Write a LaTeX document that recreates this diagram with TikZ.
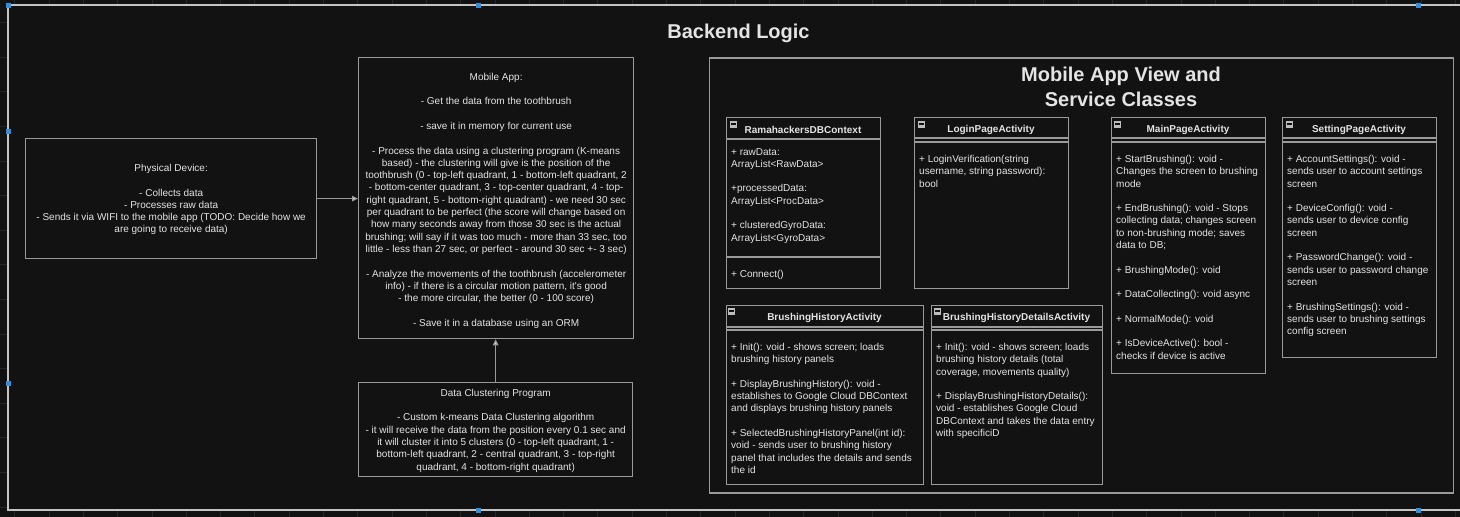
\documentclass[tikz,border=0pt]{standalone}
\usepackage{fontspec}
\newfontfamily\appfont{Liberation Sans}
\usetikzlibrary{arrows.meta}
\definecolor{bg}{HTML}{121212}
\definecolor{fg}{HTML}{E4E4E4}
\definecolor{edge}{HTML}{9A9A9A}
\definecolor{frame}{HTML}{C4C4C4}
\definecolor{gridc}{HTML}{262626}
\definecolor{handle}{HTML}{3A8CD0}
\definecolor{icofill}{HTML}{BDBDBD}
\begin{document}
\begin{tikzpicture}[x=1pt,y=-1pt,
  box/.style={draw=edge, line width=1.3pt, fill=bg, inner sep=0pt, anchor=north west},
  body/.style={text=fg, inner sep=0pt, font=\appfont\fontsize{10}{12.3}\selectfont},
  lbody/.style={body, align=left, anchor=north west},
  cbody/.style={body, align=center},
  hdr/.style={text=fg, inner sep=0pt, font=\appfont\bfseries\fontsize{10}{12}\selectfont},
  sepline/.style={draw=edge, line width=1.1pt},
  conn/.style={draw=edge, line width=1.2pt, -{Triangle[length=6pt,width=5.5pt,fill=fg]}},
  bigtitle/.style={text=fg, inner sep=0pt, font=\appfont\bfseries\fontsize{20}{25}\selectfont, align=center}
]
\useasboundingbox (0,0) rectangle (1460,517);
\fill[bg] (0,0) rectangle (1460,517);
% faint grid
\foreach \gx in {0,...,42} {\draw[gridc, line width=0.6pt] ({14.6+34.3*\gx},0) -- ({14.6+34.3*\gx},517);}
\foreach \gy in {0,...,15} {\draw[gridc, line width=0.6pt] (0,{22.5+34.6*\gy}) -- (1460,{22.5+34.6*\gy});}
% outer frame
\begin{scope}
\clip (0,0) rectangle (1460,517);
\draw[frame, line width=1.6pt, fill=bg] (8,5) rectangle (1480,510);
\end{scope}

\node[bigtitle, anchor=base] (title) at (738.5,38) {Backend Logic};

% Physical device
\node[box, minimum width=291, minimum height=120] (phys) at (25,138) {};
\node[cbody] (physt) at ([yshift=-1pt]phys.center) {Physical Device:\\[12.3pt]
- Collects data\\
- Processes raw data\\
- Sends it via WIFI to the mobile app (TODO: Decide how we\\
are going to receive data)};

% Mobile app
\node[box, minimum width=275, minimum height=281] (app) at (358,57) {};
\node[cbody] (appt) at ([yshift=-2.5pt]app.center) {Mobile App:\\[12.3pt]
- Get the data from the toothbrush\\[12.3pt]
- save it in memory for current use\\[12.3pt]
- Process the data using a clustering program (K-means\\
based) - the clustering will give is the position of the\\
toothbrush (0 - top-left quadrant, 1 - bottom-left quadrant, 2\\
- bottom-center quadrant, 3 - top-center quadrant, 4 - top-\\
right quadrant, 5 - bottom-right quadrant) - we need 30 sec\\
per quadrant to be perfect (the score will change based on\\
how many seconds away from those 30 sec is the actual\\
brushing; will say if it was too much - more than 33 sec, too\\
little - less than 27 sec, or perfect - around 30 sec +- 3 sec)\\[12.3pt]
- Analyze the movements of the toothbrush (accelerometer\\
info) - if there is a circular motion pattern, it's good\\
- the more circular, the better (0 - 100 score)\\[12.3pt]
- Save it in a database using an ORM};

% Data clustering
\node[box, minimum width=274, minimum height=94] (clus) at (358,382) {};
\node[cbody] (clust) at ([yshift=-1pt]clus.center) {Data Clustering Program\\[12.3pt]
- Custom k-means Data Clustering algorithm\\
- it will receive the data from the position every 0.1 sec and\\
it will cluster it into 5 clusters (0 - top-left quadrant, 1 -\\
bottom-left quadrant, 2 - central quadrant, 3 - top-right\\
quadrant, 4 - bottom-right quadrant)};

\draw[conn] (phys.east) -- (phys.east -| app.west);
\draw[conn] (clus.north) -- (clus.north |- app.south);

% Mobile App View container
\node[box, line width=1.5pt, minimum width=744, minimum height=435] (view) at (708.5,57) {};
\node[bigtitle, anchor=base] (viewt1) at (1121,81) {Mobile App View and};
\node[bigtitle, anchor=base] (viewt2) at (1121,106.5) {Service Classes};

% RamahackersDBContext
\node[box, minimum width=154, minimum height=171] (ram) at (726,117) {};
\draw[sepline] (726,139) -- (880,139);
\draw[sepline] (726,257) -- (880,257);
\node[hdr] (ramh) at (803,129.5) {RamahackersDBContext};
\node[lbody] (rama) at (731,148) {+ rawData:\\ArrayList<RawData>\\[12.3pt]+processedData:\\ArrayList<ProcData>\\[12.3pt]+ clusteredGyroData:\\ArrayList<GyroData>};
\node[lbody] (ramm) at (731,270) {+ Connect()};

% LoginPageActivity
\node[box, minimum width=154, minimum height=171] (login) at (914,117) {};
\draw[sepline] (914,138) -- (1068,138);
\draw[sepline] (914,142) -- (1068,142);
\node[hdr] (loginh) at (991,129.5) {LoginPageActivity};
\node[lbody] (loginm) at (919,155) {+ LoginVerification(string\\username, string password):\\bool};

% MainPageActivity
\node[box, minimum width=154, minimum height=256] (mainp) at (1111,117) {};
\draw[sepline] (1111,138) -- (1265,138);
\draw[sepline] (1111,142) -- (1265,142);
\node[hdr] (mainh) at (1188,129.5) {MainPageActivity};
\node[lbody] (mainm) at (1116,155) {+ StartBrushing(): void -\\Changes the screen to brushing\\mode\\[12.3pt]
+ EndBrushing(): void - Stops\\collecting data; changes screen\\to non-brushing mode; saves\\data to DB;\\[12.3pt]
+ BrushingMode(): void\\[12.3pt]
+ DataCollecting(): void async\\[12.3pt]
+ NormalMode(): void\\[12.3pt]
+ IsDeviceActive(): bool -\\checks if device is active};

% SettingPageActivity
\node[box, minimum width=154, minimum height=240] (sett) at (1282,117) {};
\draw[sepline] (1282,138) -- (1436,138);
\draw[sepline] (1282,142) -- (1436,142);
\node[hdr] (setth) at (1359,129.5) {SettingPageActivity};
\node[lbody] (settm) at (1287,155) {+ AccountSettings(): void -\\sends user to account settings\\screen\\[12.3pt]
+ DeviceConfig(): void -\\sends user to device config\\screen\\[12.3pt]
+ PasswordChange(): void -\\sends user to password change\\screen\\[12.3pt]
+ BrushingSettings(): void -\\sends user to brushing settings\\config screen};

% BrushingHistoryActivity
\node[box, minimum width=197, minimum height=179] (bha) at (726,305) {};
\draw[sepline] (726,327) -- (923,327);
\draw[sepline] (726,330) -- (923,330);
\node[hdr] (bhah) at (824.5,318) {BrushingHistoryActivity};
\node[lbody] (bham) at (731,343) {+ Init(): void - shows screen; loads\\brushing history panels\\[12.3pt]
+ DisplayBrushingHistory(): void -\\establishes to Google Cloud DBContext\\and displays brushing history panels\\[12.3pt]
+ SelectedBrushingHistoryPanel(int id):\\void - sends user to brushing history\\panel that includes the details and sends\\the id};

% BrushingHistoryDetailsActivity
\node[box, minimum width=171, minimum height=179] (bhda) at (931,305) {};
\draw[sepline] (931,327) -- (1102,327);
\draw[sepline] (931,330) -- (1102,330);
\node[hdr] (bhdah) at (1016.5,318) {BrushingHistoryDetailsActivity};
\node[lbody] (bhdam) at (936,343) {+ Init(): void - shows screen; loads\\brushing history details (total\\coverage, movements quality)\\[12.3pt]
+ DisplayBrushingHistoryDetails():\\void - establishes Google Cloud\\DBContext and takes the data entry\\with specificiD};

% collapse icons
\foreach \ix/\iy in {730/120.5, 918/120.5, 1114/120.5, 1286/120.5, 728/307.5, 934/307.5} {
  \fill[icofill] (\ix,\iy) rectangle ++(7,7);
  \draw[bg, line width=1.2pt] (\ix+1.2,\iy+3.5) -- ++(4.6,0);
}

% selection handles
\foreach \hx/\hy in {8/5, 8/131, 8/383, 478/5, 1418/5, 478/510, 1418/510} {
  \fill[handle] (\hx-2.5,\hy-2.5) rectangle ++(5,5);
}
\end{tikzpicture}
\end{document}
